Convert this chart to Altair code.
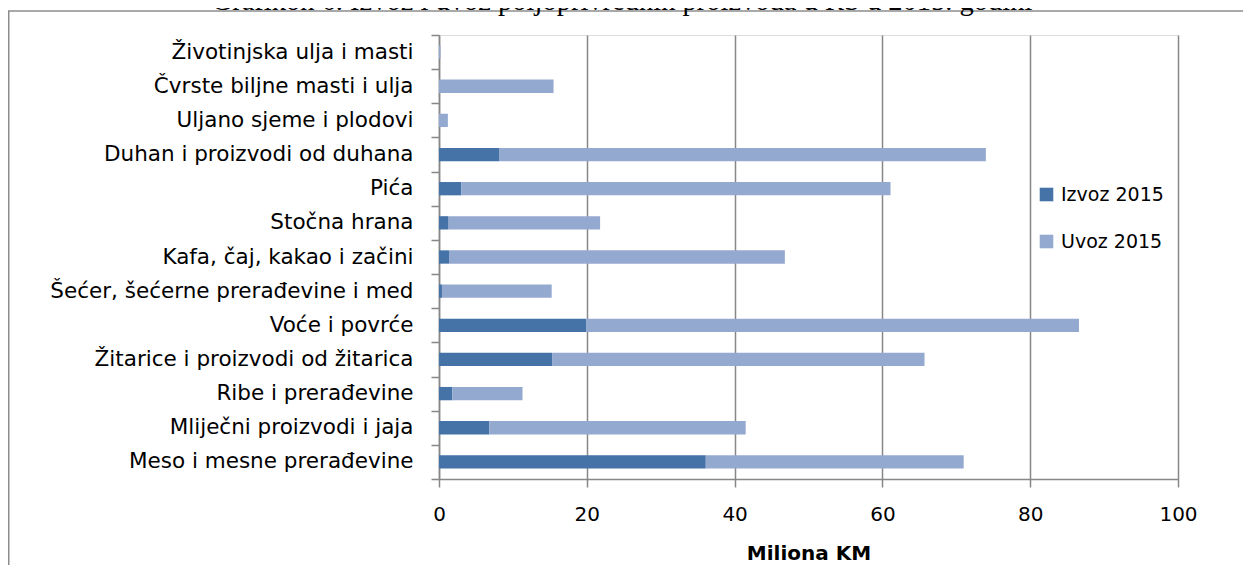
import altair as alt
import pandas as pd

categories = [
    "Životinjska ulja i masti",
    "Čvrste biljne masti i ulja",
    "Uljano sjeme i plodovi",
    "Duhan i proizvodi od duhana",
    "Pića",
    "Stočna hrana",
    "Kafa, čaj, kakao i začini",
    "Šećer, šećerne prerađevine i med",
    "Voće i povrće",
    "Žitarice i proizvodi od žitarica",
    "Ribe i prerađevine",
    "Mliječni proizvodi i jaja",
    "Meso i mesne prerađevine",
]
izvoz_2015 = [0.0, 0.0, 0.0, 8.2, 3.0, 1.3, 1.35, 0.4, 19.9, 15.3, 1.8, 6.8, 36.1]
uvoz_2015 = [0.2, 15.5, 1.2, 65.8, 58.1, 20.5, 45.45, 14.85, 66.7, 50.4, 9.5, 34.7, 34.9]
series = ["Izvoz 2015", "Uvoz 2015"]
colors = ["#4572A7", "#94A9D0"]
x_ticks = [0, 20, 40, 60, 80, 100]
title_text = "Grafikon 6. Izvoz i uvoz poljoprivrednih proizvoda u RS u 2015. godini"
x_title = "Miliona KM"

rows = []
for c, a, b in zip(categories, izvoz_2015, uvoz_2015):
    rows.append({"kat": c, "serija": series[0], "vrijednost": a, "red": 0})
    rows.append({"kat": c, "serija": series[1], "vrijednost": b, "red": 1})
df = pd.DataFrame(rows)

FONT = "DejaVu Sans"
GRID = "#878787"

bars = alt.Chart(df).mark_bar(height={"band": 0.39}).encode(
    y=alt.Y(
        "kat:N",
        sort=categories,
        scale=alt.Scale(paddingInner=0, paddingOuter=0),
        axis=alt.Axis(
            title=None,
            tickBand="extent",
            tickSize=8,
            tickColor=GRID,
            tickWidth=1.5,
            domainColor=GRID,
            domainWidth=1.5,
            labelPadding=18,
            labelFont=FONT,
            labelFontSize=21.5,
            labelColor="#000000",
            labelLimit=600,
            grid=False,
        ),
    ),
    x=alt.X(
        "vrijednost:Q",
        stack="zero",
        scale=alt.Scale(domain=[0, 100], nice=False, zero=True),
        axis=alt.Axis(
            values=x_ticks,
            grid=True,
            gridColor=GRID,
            gridWidth=1.5,
            tickSize=8,
            tickColor=GRID,
            tickWidth=1.5,
            domainColor=GRID,
            domainWidth=1.5,
            labelPadding=17,
            labelFont=FONT,
            labelFontSize=20,
            labelColor="#000000",
            labelFlush=False,
            title=x_title,
            titleFont=FONT,
            titleFontSize=20,
            titleFontWeight="bold",
            titleColor="#000000",
            titleY=80,
            titleBaseline="alphabetic",
        ),
    ),
    color=alt.Color(
        "serija:N",
        scale=alt.Scale(domain=series, range=colors),
        legend=alt.Legend(
            title=None,
            orient="none",
            legendX=598,
            legendY=150,
            direction="vertical",
            symbolType="square",
            symbolSize=185,
            symbolStrokeWidth=0,
            labelFont=FONT,
            labelFontSize=19,
            labelColor="#000000",
            labelOffset=5,
            rowPadding=27,
            padding=0,
        ),
    ),
    order=alt.Order("red:Q"),
)

one = pd.DataFrame({"k": [0]})
frame_left = alt.Chart(one).mark_rule(color="#8c8c8c", strokeWidth=1.5).encode(
    x=alt.value(-430.25), y=alt.value(-24), y2=alt.value(600)
)
frame_top = alt.Chart(one).mark_rule(color="#8c8c8c", strokeWidth=1.5).encode(
    x=alt.value(-431), x2=alt.value(810), y=alt.value(-24)
)
title_mark = alt.Chart(one).mark_text(
    text=title_text,
    font="Liberation Serif",
    fontSize=28.5,
    color="#000000",
    align="center",
    baseline="alphabetic",
).encode(x=alt.value(183), y=alt.value(-25.5))

chart = alt.layer(bars, frame_left, frame_top, title_mark).properties(
    width=739,
    height=444,
    autosize=alt.AutoSizeParams(type="none"),
    padding={"left": 431, "top": 27, "right": 65, "bottom": 86},
).configure_view(stroke=None).configure(background="#ffffff")

chart.save("out.html", embed_options={"renderer": "svg", "actions": False})
